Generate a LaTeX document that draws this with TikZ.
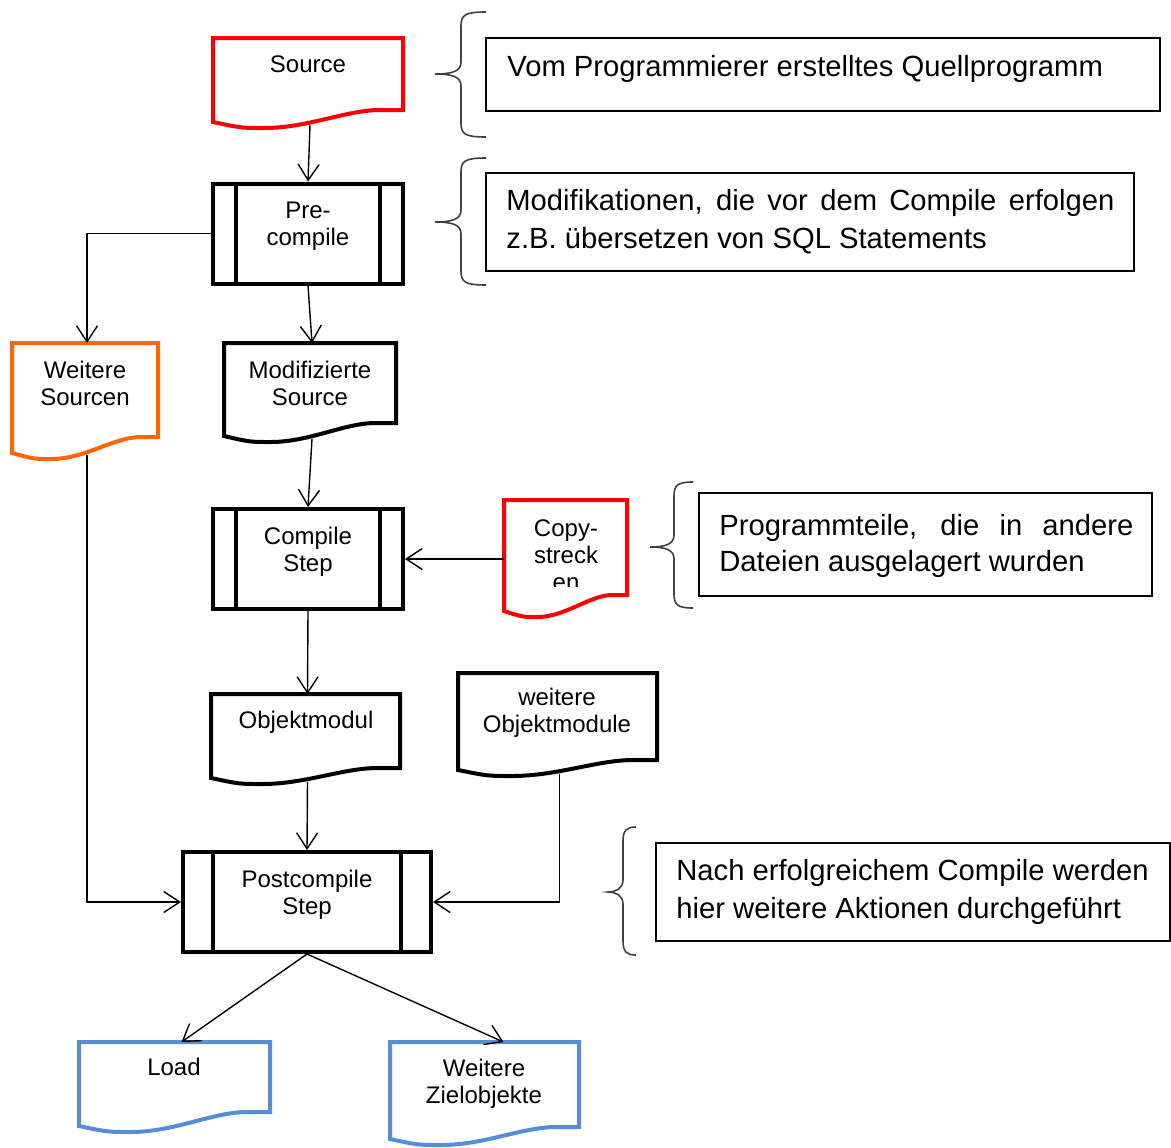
\documentclass[tikz,border=0pt]{standalone}
\usepackage{fontspec}
\setmainfont{Liberation Sans}
\usetikzlibrary{arrows.meta,calc}

\definecolor{docred}{HTML}{FF0000}
\definecolor{docorange}{HTML}{FF6600}
\definecolor{docblue}{HTML}{558ED5}
\definecolor{bracegray}{HTML}{404040}

\newcommand\nodefont{\fontsize{12}{13.5}\selectfont}
\newcommand\notefont{\fontsize{14.6}{19}\selectfont}

% document symbol: name, x1, y1, x2, right bottom, left bottom, colour
\newcommand\docshape[7]{%
  \pgfmathsetmacro\dw{#4-#2}%
  \pgfmathsetmacro\dd{#6+6}%
  \pgfmathsetmacro\dh{0.27*#5+0.73*\dd-#3-2}%
  \node[docbox, minimum width=\dw*0.5pt, minimum height=\dh*0.5pt, anchor=north west] (#1) at (#2,#3) {};
  \draw[docline, draw=#7] (#2,#3) -- (#4,#3) -- (#4,#5) -- ({#2+0.88*\dw},#5)
    .. controls ({#2+0.7*\dw},#5) and ({#2+0.5*\dw},\dd) .. ({#2+0.27*\dw},\dd)
    .. controls ({#2+0.15*\dw},\dd) .. (#2,#6) -- cycle;
}

% curly brace: x of the ends, x of the stem, x of the tip, y top, y tip, y bottom
\newcommand\notebrace[6]{%
  \draw[bracel] (#1,#4) .. controls ({#2+4},#4) and (#2,{#4+3}) .. (#2,{#4+14})
    -- (#2,{#5-12}) .. controls (#2,{#5-3}) and ({#2-8},#5) .. (#3,#5)
    .. controls ({#2-8},#5) and (#2,{#5+3}) .. (#2,{#5+12})
    -- (#2,{#6-14}) .. controls (#2,{#6-3}) and ({#2+4},#6) .. (#1,#6);
}

\tikzset{
  docbox/.style={inner sep=0pt, outer sep=1pt},
  docline/.style={line width=2pt, line join=miter, fill=white},
  proc/.style={draw, line width=2pt, fill=white, inner sep=0pt, outer sep=1pt, minimum height=50pt},
  procbar/.style={line width=2pt},
  lbl/.style={font=\nodefont, align=center, inner sep=0pt},
  conn/.style={line width=0.7pt, -{Straight Barb[length=8pt,width=10.5pt]}},
  notebox/.style={draw, line width=0.7pt, inner sep=0pt, outer sep=0pt, anchor=north west},
  notetext/.style={font=\notefont, inner sep=0pt, anchor=base west},
  bracel/.style={line width=0.8pt, draw=bracegray},
}

\begin{document}
\begin{tikzpicture}[x=0.5pt, y=-0.5pt]
\fill[white] (0,0) rectangle (1171,1146);

% ---- document symbols ----
\docshape{src}{213}{38}{403}{110}{122}{docred}
\docshape{ws}{12}{343}{158}{437}{453}{docorange}
\docshape{mod}{224}{343}{396}{423}{436}{black}
\docshape{cpy}{504}{500}{627}{595}{611}{docred}
\docshape{obj}{211}{694}{400}{768}{778}{black}
\docshape{wobj}{458}{673}{657}{760}{770}{black}
\docshape{load}{79}{1042}{270}{1112}{1126}{docblue}
\docshape{wz}{390}{1042}{579}{1127}{1139}{docblue}

% ---- process steps ----
\node[proc, minimum width=95pt] (pre) at (308,233.5) {};
\node[proc, minimum width=95pt] (cmp) at (308,559) {};
\node[proc, minimum width=124pt] (post) at (307,902) {};
\foreach \n/\s in {pre/12.5pt, cmp/12.5pt, post/16pt} {
  \draw[procbar] ([shift={(\s,-1pt)}]\n.north west) -- ([shift={(\s,1pt)}]\n.south west);
  \draw[procbar] ([shift={(-\s,-1pt)}]\n.north east) -- ([shift={(-\s,1pt)}]\n.south east);
}

% ---- labels ----
\node[lbl] (src-t) at (308,67) {\strut Source};
\node[lbl] (pre-t) at (308,226.5) {\strut Pre-\\\strut compile};
\node[lbl] (ws-t) at (85,386.5) {\strut Weitere\\\strut Sourcen};
\node[lbl] (mod-t) at (310,386.5) {\strut Modifizierte\\\strut Source};
\node[lbl] (cmp-t) at (308,552.5) {\strut Compile\\\strut Step};
% the last line of this label runs into the lower edge and is cut off
\begin{scope}
  \clip (500,490) rectangle (632,586);
  \node[lbl] (cpy-t) at (566,558.5) {\strut Copy-\\\strut streck\\\strut en};
\end{scope}
\node[lbl] (obj-t) at (306,723) {\strut Objektmodul};
\node[lbl] (wobj-t) at (557,713.5) {\strut weitere\\\strut Objektmodule};
\node[lbl] (post-t) at (307,895.5) {\strut Postcompile\\\strut Step};
\node[lbl] (load-t) at (174,1070) {\strut Load};
\node[lbl] (wz-t) at (484,1085) {\strut Weitere\\\strut Zielobjekte};

% ---- connectors ----
\draw[conn] (src.south) -- (pre.north);
\draw[conn] (pre.west) -| (ws.north);
\draw[conn] (pre.south) -- (mod.north);
\draw[conn] (mod.south) -- (cmp.north);
\draw[conn] (cpy.west |- cmp.east) -- (cmp.east);
\draw[conn] (cmp.south) -- (obj.north);
\draw[conn] (obj.south) -- (post.north);
\draw[conn] (ws.south) |- (post.west);
\draw[conn] (wobj.south) |- (post.east);
\draw[conn] (post.south) -- ([xshift=2.5pt]load.north);
\draw[conn] (post.south) -- ([xshift=8.5pt]wz.north);

% ---- explanatory notes ----
\notebrace{486}{461}{435}{12}{74}{137}
\node[notebox, minimum width=337pt, minimum height=36.5pt] (n1) at (486,38) {};
\node[notetext] (n1a) at (507,76) {Vom Programmierer erstelltes Quellprogramm};

\notebrace{486}{461}{435}{158}{222}{285}
\node[notebox, minimum width=324pt, minimum height=49pt] (n2) at (486,173) {};
\node[notetext] (n2a) at (506,210) {\makebox[304pt][s]{Modifikationen, die vor dem Compile erfolgen}};
\node[notetext] (n2b) at (506,248) {z.B. übersetzen von SQL Statements};

\notebrace{693}{674}{650}{482}{547}{608}
\node[notebox, minimum width=226.5pt, minimum height=51.5pt] (n3) at (699,493) {};
\node[notetext] (n3a) at (719,535) {\makebox[207pt][s]{Programmteile, die in andere}};
\node[notetext] (n3b) at (719,571) {Dateien ausgelagert wurden};

\notebrace{636}{623}{608}{827}{892}{955}
\node[notebox, minimum width=257pt, minimum height=49pt] (n4) at (656,843) {};
\node[notetext] (n4a) at (676,880) {Nach erfolgreichem Compile werden};
\node[notetext] (n4b) at (676,918) {hier weitere Aktionen durchgeführt};
\end{tikzpicture}
\end{document}
